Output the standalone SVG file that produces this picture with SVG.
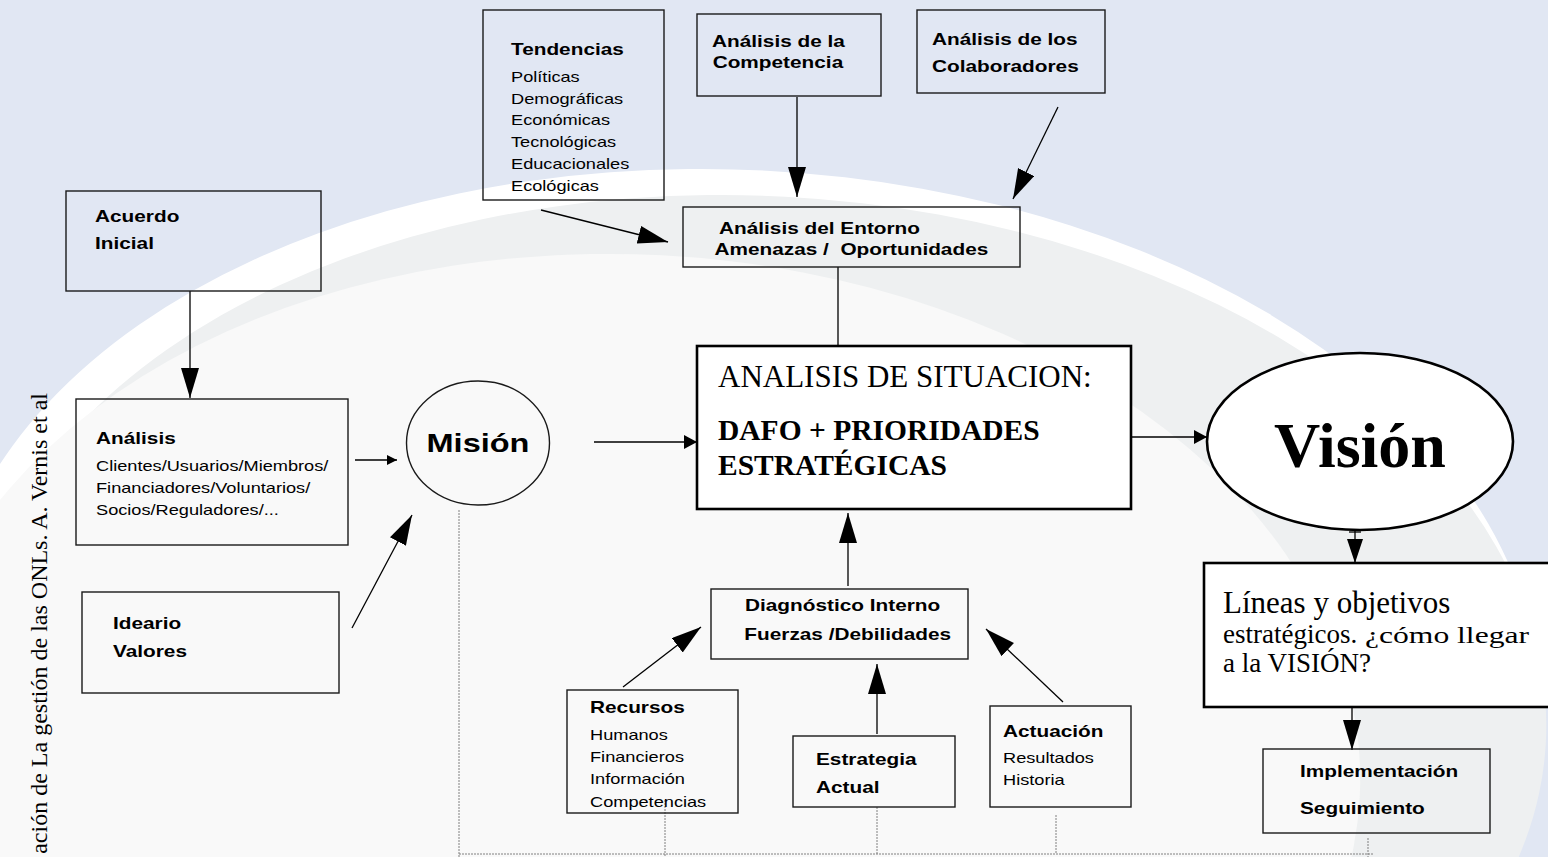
<svg xmlns="http://www.w3.org/2000/svg" width="1548" height="857" viewBox="0 0 1548 857">
<style>
.box{fill:none;stroke:#1a1a1a;stroke-width:1.4}
.wbox{fill:#fff;stroke:#000;stroke-width:2.6}
.b{font-family:"Liberation Sans",Arial,sans-serif;font-weight:bold;font-size:16px;fill:#000}
.r{font-family:"Liberation Sans",Arial,sans-serif;font-size:14px;fill:#000}
.s{font-family:"Liberation Serif","Times New Roman",serif;fill:#000}
.sb{font-family:"Liberation Serif","Times New Roman",serif;font-weight:bold;fill:#000}
.c{stroke:#000;stroke-width:1.3;fill:none}
.d{stroke:#808080;stroke-width:1;fill:none;stroke-dasharray:2 1}
</style>
<defs>
<marker id="big" markerUnits="userSpaceOnUse" markerWidth="40" markerHeight="30" refX="30" refY="9" orient="auto"><path d="M0,0 L30,9 L0,18 Z" fill="#000"/></marker>
<marker id="med" markerUnits="userSpaceOnUse" markerWidth="40" markerHeight="30" refX="24" refY="8" orient="auto"><path d="M0,0 L24,8 L0,16 Z" fill="#000"/></marker>
<marker id="mid" markerUnits="userSpaceOnUse" markerWidth="20" markerHeight="20" refX="13" refY="7" orient="auto"><path d="M0,0 L13,7 L0,14 Z" fill="#000"/></marker>
<marker id="sm" markerUnits="userSpaceOnUse" markerWidth="20" markerHeight="20" refX="10" refY="5" orient="auto"><path d="M0,0 L10,5 L0,10 Z" fill="#000"/></marker>
</defs>
<g id="background">
<rect width="1548" height="857" fill="#e1e7f3"/>
<g transform="rotate(3 740 680)">
<ellipse cx="740" cy="680" rx="800" ry="510" fill="#ffffff"/>
<ellipse cx="760" cy="700" rx="788" ry="505" fill="#eef0f1"/>
<ellipse cx="640" cy="765" rx="725" ry="505" fill="#f9f9f9"/>
</g>
</g>
<text class="s" style="font-size:24px" text-anchor="end" transform="translate(47,393) rotate(-90)">ación de La gestión de las ONLs. A. Vernis et al</text>

<g id="connectors">
<path class="c" d="M190,291 L190,398" marker-end="url(#big)"/>
<path class="c" d="M355,460 L397,460" marker-end="url(#sm)"/>
<path class="c" d="M352,628 L412,515" marker-end="url(#big)"/>
<path class="c" d="M594,442 L697,442" marker-end="url(#mid)"/>
<path class="c" d="M1131,437 L1207,437" marker-end="url(#mid)"/>
<path class="c" d="M1355,531 L1355,563" marker-end="url(#med)"/>
<path class="c" d="M1349,532 L1361,532"/>
<path class="c" d="M1352,707 L1352,750" marker-end="url(#big)"/>
<path class="c" d="M541,210 L668,242" marker-end="url(#big)"/>
<path class="c" d="M797,97 L797,197" marker-end="url(#big)"/>
<path class="c" d="M1058,107 L1013,199" marker-end="url(#big)"/>
<path class="c" d="M838,267 L838,346"/>
<path class="c" d="M848,586 L848,513" marker-end="url(#big)"/>
<path class="c" d="M623,687 L701,627" marker-end="url(#big)"/>
<path class="c" d="M877,734 L877,664" marker-end="url(#big)"/>
<path class="c" d="M1063,702 L986,629" marker-end="url(#big)"/>
<path class="d" d="M459,510 L459,857"/>
<path class="d" d="M459,854 L1374,854"/>
<path class="d" d="M665,800 L665,857"/>
<path class="d" d="M877,807 L877,854"/>
<path class="d" d="M1056,815 L1056,854"/>
<path class="d" d="M1368,838 L1368,857"/>
</g>

<g id="tendencias">
<rect class="box" x="483" y="10" width="181" height="190"/>
<text class="b" transform="matrix(1.3 0 0 1 511 55)">Tendencias</text>
<text class="r" transform="matrix(1.3 0 0 1 511 0)"><tspan x="0" y="82">Políticas</tspan><tspan x="0" y="104">Demográficas</tspan><tspan x="0" y="125">Económicas</tspan><tspan x="0" y="147">Tecnológicas</tspan><tspan x="0" y="169">Educacionales</tspan><tspan x="0" y="191">Ecológicas</tspan></text>
</g>
<g id="competencia">
<rect class="box" x="697" y="14" width="184" height="82"/>
<text class="b" transform="matrix(1.3 0 0 1 712 0)"><tspan x="0" y="47">Análisis de la</tspan><tspan x="0.5" y="68">Competencia</tspan></text>
</g>
<g id="colaboradores">
<rect class="box" x="917" y="10" width="188" height="83"/>
<text class="b" transform="matrix(1.3 0 0 1 932 0)"><tspan x="0" y="45">Análisis de los</tspan><tspan x="0" y="72">Colaboradores</tspan></text>
</g>
<g id="entorno">
<rect class="box" x="683" y="207" width="337" height="60"/>
<text class="b" transform="matrix(1.3 0 0 1 719 0)"><tspan x="0" y="234">Análisis del Entorno</tspan><tspan x="-3.5" y="255">Amenazas /&#160; Oportunidades</tspan></text>
</g>
<g id="acuerdo">
<rect class="box" x="66" y="191" width="255" height="100"/>
<text class="b" transform="matrix(1.3 0 0 1 95 0)"><tspan x="0" y="222">Acuerdo</tspan><tspan x="0" y="249">Inicial</tspan></text>
</g>
<g id="analisis">
<rect class="box" x="76" y="399" width="272" height="146"/>
<text class="b" transform="matrix(1.3 0 0 1 96 444)">Análisis</text>
<text class="r" transform="matrix(1.3 0 0 1 96 0)"><tspan x="0" y="471">Clientes/Usuarios/Miembros/</tspan><tspan x="0" y="493">Financiadores/Voluntarios/</tspan><tspan x="0" y="515">Socios/Reguladores/...</tspan></text>
</g>
<g id="ideario">
<rect class="box" x="82" y="592" width="257" height="101"/>
<text class="b" transform="matrix(1.3 0 0 1 113 0)"><tspan x="0" y="629">Ideario</tspan><tspan x="0" y="657">Valores</tspan></text>
</g>
<g id="mision">
<ellipse class="box" cx="478" cy="443" rx="71.5" ry="62"/>
<text class="b" style="font-size:25px" text-anchor="middle" transform="matrix(1.3 0 0 1 478 452)">Misión</text>
</g>
<g id="situacion">
<rect class="wbox" x="697" y="346" width="434" height="163" stroke-width="3"/>
<text class="s" font-size="31" x="718" y="387">ANALISIS DE SITUACION:</text>
<text class="sb" font-size="29.5"><tspan x="718" y="440">DAFO + PRIORIDADES</tspan><tspan x="718" y="475">ESTRATÉGICAS</tspan></text>
</g>
<g id="vision">
<ellipse class="wbox" cx="1360" cy="441.5" rx="153" ry="88.5" stroke-width="2.2"/>
<text class="sb" font-size="64" text-anchor="middle" x="1360" y="467">Visión</text>
</g>
<g id="lineas">
<rect class="wbox" x="1204" y="563" width="360" height="144"/>
<text class="s" font-size="31" x="1223" y="613">Líneas y objetivos</text>
<text class="s" font-size="27" x="1223" y="643">estratégicos.</text>
<text class="s" font-size="24" x="1365" y="643" textLength="164" lengthAdjust="spacingAndGlyphs">¿cómo llegar</text>
<text class="s" font-size="27" x="1223" y="672">a la VISIÓN?</text>
</g>
<g id="implementacion">
<rect class="box" x="1263" y="749" width="227" height="84"/>
<text class="b" transform="matrix(1.3 0 0 1 1300 0)"><tspan x="0" y="777">Implementación</tspan><tspan x="0" y="814">Seguimiento</tspan></text>
</g>
<g id="diagnostico">
<rect class="box" x="711" y="589" width="257" height="70"/>
<text class="b" transform="matrix(1.3 0 0 1 745 0)"><tspan x="0" y="611">Diagnóstico Interno</tspan><tspan x="-0.5" y="640">Fuerzas /Debilidades</tspan></text>
</g>
<g id="recursos">
<rect class="box" x="567" y="690" width="171" height="123"/>
<text class="b" transform="matrix(1.3 0 0 1 590 713)">Recursos</text>
<text class="r" transform="matrix(1.3 0 0 1 590 0)"><tspan x="0" y="740">Humanos</tspan><tspan x="0" y="762">Financieros</tspan><tspan x="0" y="784">Información</tspan><tspan x="0" y="807">Competencias</tspan></text>
</g>
<g id="estrategia">
<rect class="box" x="793" y="736" width="162" height="71"/>
<text class="b" transform="matrix(1.3 0 0 1 816 0)"><tspan x="0" y="765">Estrategia</tspan><tspan x="0" y="793">Actual</tspan></text>
</g>
<g id="actuacion">
<rect class="box" x="990" y="706" width="141" height="101"/>
<text class="b" transform="matrix(1.3 0 0 1 1003 737)">Actuación</text>
<text class="r" transform="matrix(1.3 0 0 1 1003 0)"><tspan x="0" y="763">Resultados</tspan><tspan x="0" y="785">Historia</tspan></text>
</g>
</svg>
